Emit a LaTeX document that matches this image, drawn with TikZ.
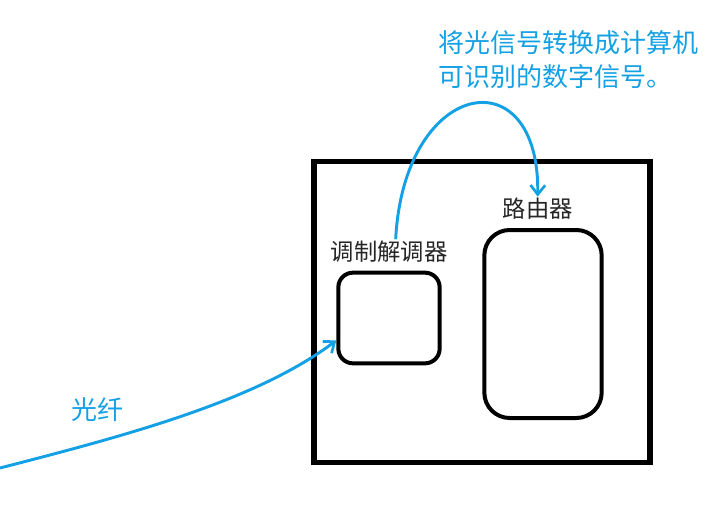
\documentclass[tikz,border=0pt]{standalone}
\usepackage{fontspec}
\newfontfamily\cjk{Noto Sans CJK SC}
\usepackage{tikz}
\usetikzlibrary{arrows.meta,positioning}
\definecolor{penblue}{RGB}{20,160,228}

\begin{document}
\begin{tikzpicture}[
    x=0.75pt, y=-0.75pt,
    node distance=4pt,
    frame/.style={rectangle, draw, line width=3.8pt, minimum width=252pt, minimum height=226pt},
    device/.style={rectangle, draw, line width=3pt},
    tag/.style={text=black!85, font=\cjk\fontsize{17.5}{20}\selectfont, inner sep=1pt},
    note/.style={text=penblue, font=\cjk\fontsize{19.5}{26}\selectfont, align=left, inner sep=0pt},
    pen/.style={draw=penblue, line width=2.2pt, -{Straight Barb[length=7pt,width=11pt,line width=2pt]}}
]
\useasboundingbox (0,0) rectangle (721,514);

% Device box
\node[frame] (box) at (482,312) {};

% Modem
\node[device, rounded corners=11pt, minimum width=76pt, minimum height=68pt] (modem) at (389,318) {};
\node[tag, above=5pt of modem] (modemlabel) {调制解调器};

% Router
\node[device, rounded corners=19pt, minimum width=88pt, minimum height=141pt] (router) at (543,324) {};
\node[tag, above=5pt of router, xshift=-4pt] (routerlabel) {路由器};

% Notes
\node[note, anchor=north west] (signal) at (438,30) {将光信号转换成计算机\\可识别的数字信号。};
\node[note] (fiber) at (97,410) {光纤};
\coordinate (fiberin) at (0,468);

% Arrows
\draw[pen] (fiberin) .. controls (120,437) and (255,402) .. (modem.203);
\draw[pen] ([xshift=5pt]modemlabel.north) .. controls (404,78) and (540,55) .. (routerlabel.north);

\end{tikzpicture}
\end{document}
